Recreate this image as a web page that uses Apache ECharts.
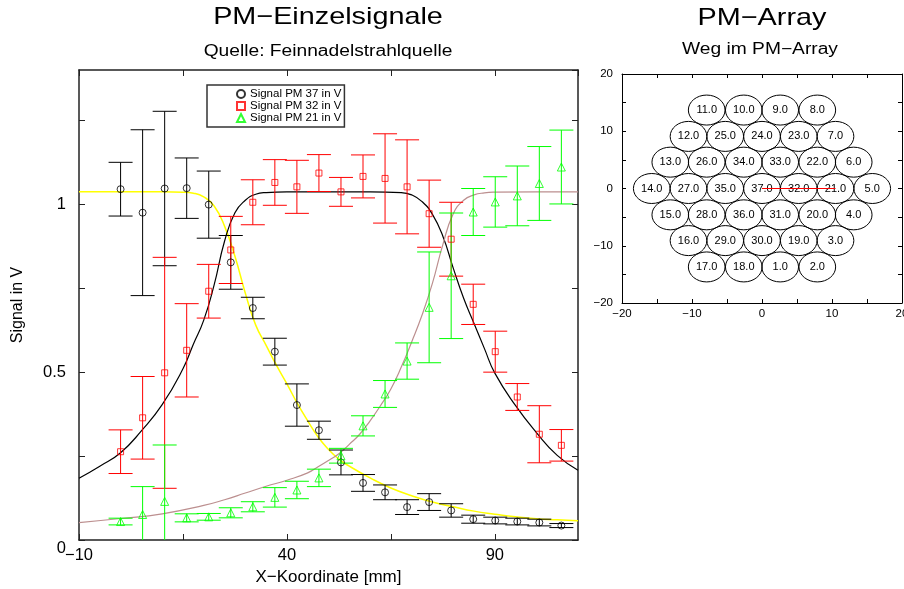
<!DOCTYPE html>
<html><head><meta charset="utf-8">
<script src="https://cdn.jsdelivr.net/npm/echarts@6/dist/echarts.min.js"></script>
<style>html,body{margin:0;padding:0;background:#fff}#c{width:904px;height:589px}</style>
</head><body><div id="c"></div>
<script>
// ---------- data: left plot (PM single signals) ----------
const xPos = [0, 5.3, 10.6, 15.9, 21.2, 26.5, 31.8, 37.1, 42.4, 47.7, 53.0, 58.3, 63.6, 68.9, 74.2, 79.5, 84.8, 90.1, 95.4, 100.7, 106.0];
const pm37 = [1.045, 0.975, 1.047, 1.048, 0.999, 0.827, 0.691, 0.561, 0.402, 0.327, 0.231, 0.170, 0.142, 0.098, 0.113, 0.088, 0.062, 0.058, 0.055, 0.052, 0.043];
const pm37Err = [0.08, 0.247, 0.23, 0.09, 0.10, 0.08, 0.032, 0.04, 0.063, 0.027, 0.037, 0.025, 0.022, 0.022, 0.025, 0.02, 0.012, 0.01, 0.01, 0.01, 0.006];
const pm32 = [0.263, 0.364, 0.498, 0.565, 0.741, 0.864, 1.006, 1.065, 1.052, 1.093, 1.037, 1.083, 1.077, 1.052, 0.972, 0.896, 0.702, 0.561, 0.426, 0.315, 0.282];
const pm32Err = [0.065, 0.123, 0.344, 0.139, 0.08, 0.1, 0.067, 0.068, 0.079, 0.055, 0.043, 0.064, 0.133, 0.14, 0.1, 0.11, 0.06, 0.061, 0.04, 0.085, 0.047];
const pm21 = [0.055, 0.076, 0.115, 0.066, 0.069, 0.081, 0.099, 0.127, 0.149, 0.185, 0.251, 0.34, 0.435, 0.533, 0.693, 0.787, 0.977, 1.007, 1.025, 1.062, 1.111];
const pm21Err = [0.01, 0.083, 0.168, 0.012, 0.01, 0.015, 0.015, 0.029, 0.026, 0.026, 0.022, 0.03, 0.04, 0.054, 0.165, 0.187, 0.07, 0.075, 0.089, 0.11, 0.11];

// fitted curves
const fit37X = [-10, 0, 10, 15, 17.5, 20, 22.5, 25, 27.5, 30, 32.5, 35, 37.5, 40, 42.5, 45, 47.5, 50, 52.5, 55, 60, 65, 70, 75, 80, 85, 90, 95, 100, 105, 110];
const fit37Y = [1.037, 1.037, 1.037, 1.036, 1.033, 1.022, 0.995, 0.935, 0.845, 0.735, 0.64, 0.58, 0.52, 0.465, 0.407, 0.355, 0.307, 0.27, 0.241, 0.22, 0.185, 0.155, 0.132, 0.113, 0.099, 0.086, 0.077, 0.069, 0.063, 0.06, 0.057];
const fit32X = [-10, -5, 0, 5, 10, 15, 17.5, 20, 22.5, 25, 27.5, 30, 32.5, 35, 40, 50, 60, 67.5, 70, 72.5, 75, 77.5, 80, 82.5, 85, 87.5, 90, 95, 100, 105, 110];
const fit32Y = [0.184, 0.22, 0.26, 0.325, 0.403, 0.51, 0.583, 0.655, 0.76, 0.89, 0.975, 1.012, 1.03, 1.035, 1.037, 1.037, 1.037, 1.035, 1.028, 1.008, 0.97, 0.905, 0.81, 0.72, 0.645, 0.57, 0.497, 0.4, 0.32, 0.252, 0.208];
const fit21X = [-10, 0, 10, 20, 25, 30, 35, 40, 45, 47.5, 50, 52.5, 55, 57.5, 60, 62.5, 65, 67.5, 70, 72.5, 75, 77.5, 80, 82.5, 85, 87.5, 90, 100, 110];
const fit21Y = [0.052, 0.064, 0.078, 0.103, 0.12, 0.14, 0.16, 0.178, 0.2, 0.218, 0.237, 0.257, 0.285, 0.315, 0.355, 0.4, 0.45, 0.515, 0.59, 0.67, 0.765, 0.88, 0.972, 1.012, 1.028, 1.034, 1.036, 1.037, 1.037];

const leftXLabels = [-10, 40, 90];
const leftYLabels = [0, 0.5, 1];

// ---------- data: right plot (PM array) ----------
const pmLabels = ['11.0','10.0','9.0','8.0',
  '12.0','25.0','24.0','23.0','7.0',
  '13.0','26.0','34.0','33.0','22.0','6.0',
  '14.0','27.0','35.0','37.0','32.0','21.0','5.0',
  '15.0','28.0','36.0','31.0','20.0','4.0',
  '16.0','29.0','30.0','19.0','3.0',
  '17.0','18.0','1.0','2.0'];
const pmX = [-7.9,-2.6,2.6,7.9,
  -10.5,-5.25,0,5.25,10.5,
  -13.1,-7.9,-2.6,2.6,7.9,13.1,
  -15.75,-10.5,-5.25,0,5.25,10.5,15.75,
  -13.1,-7.9,-2.6,2.6,7.9,13.1,
  -10.5,-5.25,0,5.25,10.5,
  -7.9,-2.6,2.6,7.9];
const pmY = [13.7,13.7,13.7,13.7,
  9.1,9.1,9.1,9.1,9.1,
  4.6,4.6,4.6,4.6,4.6,4.6,
  0,0,0,0,0,0,0,
  -4.6,-4.6,-4.6,-4.6,-4.6,-4.6,
  -9.1,-9.1,-9.1,-9.1,-9.1,
  -13.7,-13.7,-13.7,-13.7];
const pathX = [0, 10.5];
const pathY = [0, 0];
const rightTickLabels = [-20, -10, 0, 10, 20];

// ---------- chart ----------
const FONT = '"Liberation Sans", Arial, Helvetica, sans-serif';
const PM_R = 2.62;
const fmtNum = v => (v < 0 ? '\u2212' + Math.abs(v) : String(v));
const near = (arr, v) => arr.some(a => Math.abs(a - v) < 1e-6);

function errBars(name, vals, errs, color) {
  return {
    type: 'custom', name: name, xAxisIndex: 0, yAxisIndex: 0, z: 3,
    encode: {x: 0, y: 1},
    data: xPos.map((x, i) => [x, vals[i], errs[i]]),
    renderItem(params, api) {
      const x = api.value(0), y = api.value(1), e = api.value(2);
      const lo = Math.max(y - e, 0);
      const pt = api.coord([x, y + e]);
      const pb = api.coord([x, lo]);
      const h = 12;
      const st = {stroke: color, lineWidth: 1};
      const ch = [
        {type: 'line', shape: {x1: pt[0], y1: pt[1], x2: pb[0], y2: pb[1]}, style: st},
        {type: 'line', shape: {x1: pt[0] - h, y1: pt[1], x2: pt[0] + h, y2: pt[1]}, style: st}
      ];
      if (y - e > 0) ch.push({type: 'line', shape: {x1: pb[0] - h, y1: pb[1], x2: pb[0] + h, y2: pb[1]}, style: st});
      return {type: 'group', children: ch};
    }
  };
}
function scatter(name, vals, symbol, size, color) {
  return {
    type: 'scatter', name: name, xAxisIndex: 0, yAxisIndex: 0, z: 4,
    symbol: symbol, symbolSize: size,
    data: xPos.map((x, i) => [x, vals[i]]),
    itemStyle: {color: 'rgba(255,255,255,0)', borderColor: color, borderWidth: 1}
  };
}
function curve(xs, ys, color, w) {
  return {
    type: 'line', xAxisIndex: 0, yAxisIndex: 0, z: 2, smooth: 0.5,
    showSymbol: false, symbol: 'none', silent: true,
    data: xs.map((x, i) => [x, ys[i]]),
    lineStyle: {color: color, width: w}
  };
}
function axisCommon(color, width, tickLen) {
  return {
    axisLine: {onZero: false, lineStyle: {color: color, width: width}},
    axisTick: {inside: true, length: tickLen, lineStyle: {color: color, width: 1}},
    splitLine: {show: false}
  };
}
function title(text, x, y, size) {
  return {type: 'text', x: x, y: y, scaleX: 1.2, z: 10,
    style: {text: text, fontSize: size, fontFamily: FONT, fill: '#000', align: 'center', verticalAlign: 'middle'}};
}

const chart = echarts.init(document.getElementById('c'), null, {renderer: 'canvas'});
const L = axisCommon('#222', 1.5, 6);
const R = axisCommon('#000', 1, 4);
const option = {
  animation: false,
  backgroundColor: '#fff',
  textStyle: {fontFamily: FONT},
  graphic: [
    title('PM\u2212Einzelsignale', 328, 17, 24),
    title('Quelle: Feinnadelstrahlquelle', 328, 52, 16),
    title('PM\u2212Array', 762, 18, 24),
    title('Weg im PM\u2212Array', 760, 50, 16)
  ],
  legend: {
    data: [{name: 'Signal PM 37 in V', icon: 'circle'}, {name: 'Signal PM 32 in V', icon: 'rect'}, {name: 'Signal PM 21 in V', icon: 'triangle'}],
    orient: 'vertical', left: 207, top: 85,
    itemWidth: 8, itemHeight: 8, itemGap: 0,
    padding: [3, 3, 3, 29],
    borderColor: '#333', borderWidth: 1.5, backgroundColor: '#fff',
    selectedMode: false,
    textStyle: {fontSize: 11.5, fontFamily: FONT, color: '#000'}
  },
  grid: [
    {left: 79, top: 70, width: 499, height: 470, containLabel: false, outerBoundsMode: 'none'},
    {left: 622, top: 74, width: 280, height: 229, containLabel: false, outerBoundsMode: 'none'}
  ],
  xAxis: [
    Object.assign({gridIndex: 0, type: 'value', min: -10, max: 110, interval: 25, position: 'bottom',
      axisLabel: {color: '#000', fontSize: 16.5, margin: 7, fontFamily: FONT, showMaxLabel: false,
        formatter: v => near(leftXLabels, v) ? fmtNum(v) : ''},
      name: 'X\u2212Koordinate [mm]', nameLocation: 'middle', nameGap: 26,
      nameTextStyle: {color: '#000', fontSize: 17, fontFamily: FONT}}, L),
    Object.assign({gridIndex: 0, type: 'value', min: -10, max: 110, interval: 25, position: 'top',
      axisLabel: {show: false}}, L),
    Object.assign({gridIndex: 1, type: 'value', min: -20, max: 20, interval: 5, position: 'bottom',
      axisLabel: {color: '#000', fontSize: 11.5, margin: 5, fontFamily: FONT,
        formatter: v => near(rightTickLabels, v) ? fmtNum(v) : ''}}, R),
    Object.assign({gridIndex: 1, type: 'value', min: -20, max: 20, interval: 5, position: 'top',
      axisLabel: {show: false}}, R)
  ],
  yAxis: [
    Object.assign({gridIndex: 0, type: 'value', min: 0, max: 1.4, interval: 0.25, position: 'left',
      axisLabel: {color: '#000', fontSize: 16.5, margin: 13, fontFamily: FONT, showMaxLabel: false,
        formatter: v => Math.abs(v) < 1e-6 ? '{z|0}' : (near(leftYLabels, v) ? String(v) : ''),
        rich: {z: {fontSize: 16.5, fontFamily: FONT, color: '#000', padding: [16, 0, 0, 0]}}},
      name: 'Signal in V', nameLocation: 'middle', nameGap: 53, nameRotate: 90,
      nameTextStyle: {color: '#000', fontSize: 16, fontFamily: FONT}}, L),
    Object.assign({gridIndex: 0, type: 'value', min: 0, max: 1.4, interval: 0.25, position: 'right',
      axisLabel: {show: false}}, L),
    Object.assign({gridIndex: 1, type: 'value', min: -20, max: 20, interval: 5, position: 'left',
      axisLabel: {color: '#000', fontSize: 11.5, margin: 9, fontFamily: FONT,
        formatter: v => near(rightTickLabels, v) ? fmtNum(v) : ''}}, R),
    Object.assign({gridIndex: 1, type: 'value', min: -20, max: 20, interval: 5, position: 'right',
      axisLabel: {show: false}}, R)
  ],
  series: [
    curve(fit37X, fit37Y, '#ffff00', 1.5),
    curve(fit32X, fit32Y, '#000000', 1.2),
    curve(fit21X, fit21Y, '#bc8f8f', 1.2),
    errBars('err37', pm37, pm37Err, '#000000'),
    errBars('err32', pm32, pm32Err, '#ff0000'),
    errBars('err21', pm21, pm21Err, '#00ff00'),
    scatter('Signal PM 37 in V', pm37, 'circle', 7, '#000000'),
    scatter('Signal PM 32 in V', pm32, 'rect', 6, '#ff0000'),
    scatter('Signal PM 21 in V', pm21, 'triangle', 8, '#00ff00'),
    {
      type: 'custom', xAxisIndex: 2, yAxisIndex: 2, z: 3, silent: true,
      encode: {x: 0, y: 1},
      data: pmX.map((x, i) => [x, pmY[i]]),
      renderItem(params, api) {
        const c = api.coord([api.value(0), api.value(1)]);
        const s = api.size([PM_R, PM_R]);
        return {type: 'group', children: [
          {type: 'ellipse', shape: {cx: c[0], cy: c[1], rx: s[0], ry: s[1]}, style: {fill: 'none', stroke: '#000', lineWidth: 1}},
          {type: 'text', x: c[0], y: c[1], style: {text: pmLabels[params.dataIndex], align: 'center', verticalAlign: 'middle', fontSize: 11, fontFamily: FONT, fill: '#000'}}
        ]};
      }
    },
    {
      type: 'line', xAxisIndex: 2, yAxisIndex: 2, z: 5, showSymbol: false, symbol: 'none', silent: true,
      data: pathX.map((x, i) => [x, pathY[i]]),
      lineStyle: {color: '#ff0000', width: 1}
    }
  ]
};
chart.setOption(option);
</script>
</body></html>
